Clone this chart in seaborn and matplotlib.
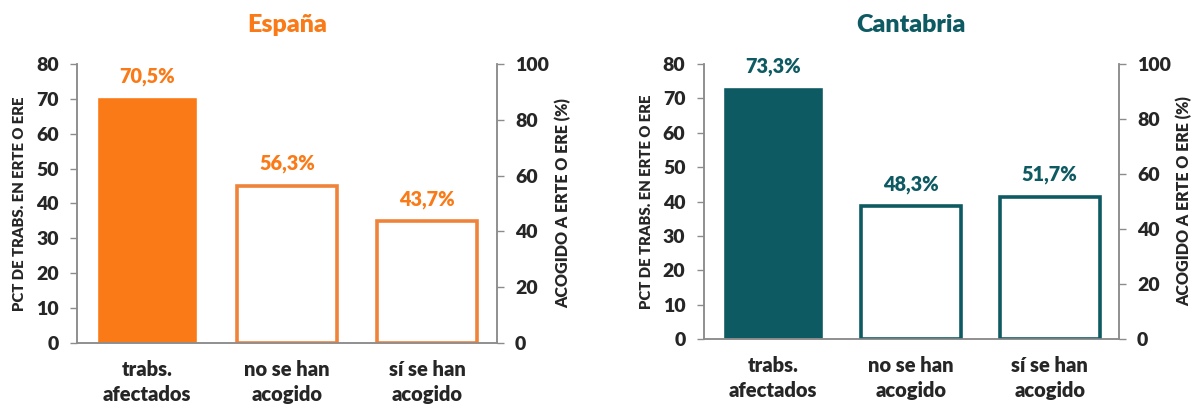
import numpy as np
import pandas as pd
import matplotlib.pyplot as plt
import seaborn as sns

# datos
categorias = ["trabs.\nafectados", "no se han\nacogido", "sí se han\nacogido"]
espana_valores = [70.5, 56.3, 43.7]
cantabria_valores = [73.3, 48.3, 51.7]

eje_izq_ticks = [0, 10, 20, 30, 40, 50, 60, 70, 80]
eje_der_ticks = [0, 20, 40, 60, 80, 100]

sns.set_theme(style="white")
plt.rcParams['font.family'] = ['Lato', 'DejaVu Sans']
PESO = 'heavy'
plt.rcParams['font.weight'] = PESO

GRIS = '#8c8c8c'


def fmt(v):
    return f"{v:.1f}".replace(".", ",") + "%"


def draw_panel(fig, rect, titulo, valores, color, borde):
    df = pd.DataFrame({'cat': categorias, 'val': valores})

    ax = fig.add_axes(rect)
    ax2 = ax.twinx()

    # barra principal (eje izquierdo)
    sns.barplot(data=df.iloc[:1], x='cat', y='val', order=categorias, ax=ax,
                color=color, width=0.72, saturation=1)
    # barras huecas (eje derecho, %)
    sns.barplot(data=df.iloc[1:], x='cat', y='val', order=categorias, ax=ax2,
                facecolor='white', edgecolor=borde, linewidth=2.6, width=0.72)

    ax.bar_label(ax.containers[0], labels=[fmt(valores[0])], padding=8,
                 color=color, fontsize=14.3, fontweight=PESO)
    ax2.bar_label(ax2.containers[0], labels=[fmt(v) for v in valores[1:]], padding=9,
                  color=color, fontsize=14.3, fontweight=PESO)

    ax.set_ylim(0, 80)
    ax2.set_ylim(0, 100)
    ax.set_yticks(eje_izq_ticks)
    ax2.set_yticks(eje_der_ticks)
    ax.set_xlim(-0.5, 2.5)

    ax.set_xticks([0, 1, 2])
    ax.set_xticklabels(categorias, fontsize=14.5, fontweight=PESO, linespacing=1.4)
    ax.set_xticks([-0.5, 0.5, 1.5, 2.5], minor=True)
    ax.tick_params(axis='x', which='major', length=0, pad=12)
    ax.tick_params(axis='x', which='minor', length=5, width=1, color=GRIS, direction='out')
    ax.tick_params(axis='y', length=5, width=1, color=GRIS, labelsize=14, pad=8, left=True)
    ax2.tick_params(axis='y', length=5, width=1, color=GRIS, labelsize=14, pad=8, right=True)
    for t in ax.get_yticklabels() + ax2.get_yticklabels():
        t.set_fontweight(PESO)

    ax.set_xlabel('')
    ax2.set_xlabel('')
    ax.set_ylabel('PCT DE TRABS. EN ERTE O ERE', fontsize=10.7, fontweight=PESO)
    ax2.set_ylabel('ACOGIDO A ERTE O ERE (%)', fontsize=11.5, fontweight=PESO)
    ax.yaxis.set_label_coords(-0.138, 0.5)
    ax2.yaxis.set_label_coords(1.157, 0.5)
    ax.yaxis.label.set_verticalalignment('center')
    ax2.yaxis.label.set_verticalalignment('center')

    for a in (ax, ax2):
        a.spines['top'].set_visible(False)
        for s in ('left', 'right', 'bottom'):
            a.spines[s].set_color(GRIS)
            a.spines[s].set_linewidth(1.1)
        a.grid(False)

    x0, y0, w, h = rect
    fig.text(x0 + w / 2, 0.939, titulo, ha='center', va='center',
             color=color, fontsize=18, fontweight=PESO)


fig = plt.figure(figsize=(11.94, 4.09), dpi=100)
draw_panel(fig, [0.0645, 0.1614, 0.3518, 0.6822], 'España', espana_valores, '#F97A17', '#F0833A')
draw_panel(fig, [0.5892, 0.1711, 0.348, 0.6724], 'Cantabria', cantabria_valores, '#0E5A62', '#0E5A62')

fig.savefig('out.png', dpi=100)
